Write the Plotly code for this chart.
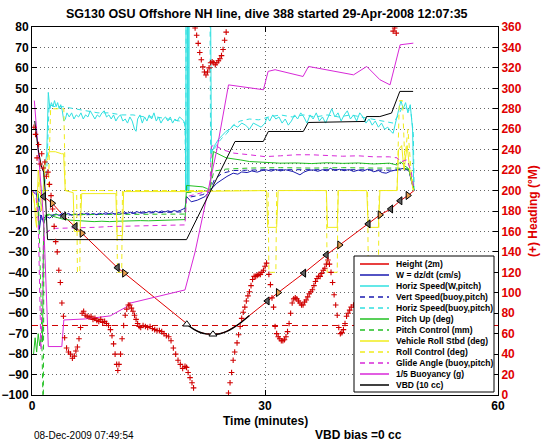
import plotly.graph_objects as go

# ---------------- data ----------------
height_t = [0.5, 0.85, 1.5, 2.6, 4.1, 5.57, 6.43, 8.5, 11.0, 11.9,
            14, 16, 18, 19.93, 20.8, 21.6, 22.4, 23.3, 24.2, 25.0,
            25.8, 26.6, 28.0, 30.3, 31.7, 33.5, 35.0, 37.9, 39.6, 41.5,
            43.3, 44.8, 46.2, 47.4, 48.4, 49.2]
height_v = [0, -0.5, -2.9, -6.2, -12.5, -17.6, -20.9, -28.5, -37.7, -40.4,
            -46.9, -53.2, -59.4, -65.4, -67.8, -69.3, -70.1, -70.3, -70.0, -69.0,
            -67.4, -65.4, -61.1, -54.0, -49.9, -44.7, -40.4, -31.5, -26.6, -21.3,
            -16.3, -11.9, -9.0, -5.0, -2.4, 0]
apogee_range = (13, 22)   # index slice of height arrays drawn in black

turn_left_t = [1.5, 4.1, 5.57, 11.0, 30.3, 35.0, 37.9, 43.3, 46.2, 47.4]
turn_left_h = [-2.9, -12.5, -17.6, -37.7, -54.0, -40.4, -31.5, -16.3, -9.0, -5.0]
turn_right_t = [2.6, 6.43, 11.9, 31.7, 39.6, 44.8, 48.4]
turn_right_h = [-6.2, -20.9, -40.4, -49.9, -26.6, -11.9, -2.4]
apogee_t = [19.93, 23.3]
apogee_h = [-65.4, -70.3]

target_t = [0, 60]
target_v = [-66, -66]
wdes_t = [0, 49.2]
wdes_up = [13.2, 13.2]
wdes_dn = [-13.2, -13.2]

w_t = [0, 0.5, 0.7, 0.95, 1.2, 1.5, 1.7, 2.0, 2.3, 2.7,
       3.1, 3.5, 3.9, 4.3, 4.7, 5.1, 5.5, 5.9, 6.3, 6.7,
       7.1, 7.5, 7.9, 8.3, 8.7, 9.1, 9.5, 9.9, 10.3, 10.7,
       11.1, 11.5, 11.9, 12.3, 12.7, 13.1, 13.5, 13.9, 14.3, 14.7,
       15.1, 15.5, 15.9, 16.3, 16.7, 17.1, 17.5, 17.9, 18.3, 18.7,
       19.1, 19.5, 19.7, 19.9, 20.5, 21.3, 22.3, 22.9, 23.8, 25.1,
       25.9, 26.5, 27.0, 27.7, 28.3, 29.0, 29.6, 30.2, 30.8, 31.4,
       32.0, 32.6, 33.2, 33.6, 34.0, 34.5, 35.0, 35.6, 36.2, 36.8,
       37.4, 38.0, 38.4, 39.0, 39.6, 40.2, 40.8, 41.4, 42.0, 42.6,
       43.2, 43.5, 44.0, 44.6, 45.1, 45.6, 46.2, 46.9, 47.5, 48.0,
       48.6, 48.8, 49.1, 49.25]
w_v = [0, 0, -5, -19, -12, -16, -14, -13, -13.5, -12.0,
       -11.4, -12.2, -11.0, -11.8, -11.2, -12.0, -11.4, -11.9, -11.1, -11.6,
       -11.0, -11.7, -11.2, -11.8, -11.1, -11.5, -10.8, -11.4, -10.9, -11.6,
       -10.7, -11.2, -10.5, -11.1, -10.6, -11.0, -10.3, -10.9, -10.4, -10.8,
       -10.2, -10.7, -10.1, -10.6, -10.0, -10.5, -9.9, -10.4, -9.8, -10.2,
       -9.7, -9.2, -8.6, -2.9, -5.5, -4.7, -2.9, 0, 3.6, 6.9,
       8.5, 8.0, 9.1, 8.8, 9.6, 9.0, 9.8, 10.1, 9.5, 10.3,
       9.6, 10.2, 9.7, 9.3, 8.6, 7.7, 9.0, 9.9, 10.1, 9.4,
       10.2, 9.6, 10.9, 9.8, 10.4, 9.7, 10.3, 9.3, 10.0, 9.5,
       10.4, 10.1, 9.2, 9.8, 8.8, 8.5, 9.5, 10.1, 10.5, 11.0,
       9.3, 5.2, 1.2, 0]

hs_t = [0, 0.6, 1.0, 1.3, 1.6, 1.9, 2.1, 2.3, 2.5, 2.7,
        2.9, 3.1, 3.3, 3.5, 3.7, 3.9, 4.1, 4.3, 4.5, 4.8,
        5.1, 5.4, 5.7, 6.0, 6.3, 6.6, 6.9, 7.2, 7.5, 7.8,
        8.1, 8.4, 8.7, 9.0, 9.3, 9.6, 9.9, 10.2, 10.5, 10.8,
        11.1, 11.4, 11.7, 12.0, 12.3, 12.6, 12.9, 13.2, 13.4, 13.6,
        13.9, 14.2, 14.5, 14.8, 15.1, 15.4, 15.7, 16.0, 16.3, 16.6,
        16.9, 17.2, 17.5, 17.8, 18.1, 18.4, 18.7, 19.0, 19.3, 19.55,
        19.75, 19.8, 19.9, 20.0, 20.1, 20.2, 20.3, 22.55, 23.1, 23.5,
        24.0, 24.5, 25.0, 25.5, 26.0, 26.5, 27.0, 27.5, 28.0, 28.5,
        29.0, 29.5, 30.0, 30.3, 30.6, 31.0, 31.4, 31.8, 32.2, 32.6,
        33.0, 33.4, 33.8, 34.2, 34.6, 35.0, 35.4, 35.8, 36.2, 36.6,
        37.0, 37.4, 37.8, 38.2, 38.6, 39.0, 39.4, 39.8, 40.2, 40.6,
        41.0, 41.4, 41.8, 42.2, 42.6, 43.0, 43.4, 43.8, 44.2, 44.6,
        45.0, 45.4, 45.8, 46.2, 46.5, 46.8, 47.1, 47.5, 47.8, 48.1,
        48.4, 48.7, 49.0, 49.15]
hs_v = [0, 0, -5, -8, 10, 18, 48, 40, 43, 41,
        44, 41, 43, 40, 42, 39, 34, 35, 38, 36,
        38, 35, 37, 36, 38, 35, 37, 36, 39, 37,
        35, 37, 36, 38, 39, 36, 37, 35, 37, 34,
        36, 37, 34, 35, 33, 36, 34, 30, 29, 35,
        37, 33, 36, 34, 37, 35, 38, 34, 36, 33,
        35, 36, 34, 36, 33, 35, 34, 36, 35, 34,
        31, 0, 400, 0, 400, 0, 400, 400, 18, 22,
        25, 27, 29, 30, 32, 31, 33, 32, 30, 33,
        32, 31, 33, 36, 34, 37, 35, 36, 33, 35,
        32, 34, 37, 35, 38, 36, 33, 37, 35, 38,
        34, 36, 33, 37, 40, 36, 38, 34, 37, 39,
        35, 37, 34, 38, 36, 33, 35, 32, 34, 31,
        33, 30, 31, 29, 28, 33, 38, 44, 40, 43,
        38, 42, 30, 2]

vsb_t = [0, 0.8, 1.2, 1.6, 2.2, 4, 7, 10, 13, 16,
         19, 19.7, 19.9, 22.0, 22.9, 23.5, 24.5, 26, 30, 34,
         38, 42, 46, 48.5, 49.2]
vsb_v = [0, -3, -15, -13, -12, -12, -11.8, -11.5, -11.2, -11,
         -10.6, -10.4, -3.5, -2, 0, 5.5, 8.5, 9.8, 10.2, 10.3,
         10.3, 10.2, 10.0, 10.2, 0]

hsb_t = [0, 1.5, 1.9, 2.2, 3.0, 4.0, 5.5, 7.0, 8.5, 10.0,
         11.5, 13.0, 14.5, 16.0, 17.5, 19.0, 19.7, 19.8, 20.0, 22.6,
         23.0, 23.6, 24.3, 25.1, 25.9, 26.8, 28.0, 29.2, 30.5, 32.0,
         33.5, 35.0, 36.5, 38.0, 39.5, 41.0, 42.5, 44.0, 45.5, 46.5,
         47.2, 47.7, 48.3, 48.8, 49.1, 49.2]
hsb_v = [0, 0, 10, 42, 41, 41, 40, 39, 38, 38,
         37, 37, 36, 36, 35, 34, 33, 0, 400, 400,
         14, 21.5, 25, 28, 32, 34, 35, 34.6, 36, 37,
         36, 37, 36, 37, 36, 37, 36, 35, 34, 33,
         37, 41, 40, 38, 28, 0]

pitch_t = [0.2, 0.4, 0.6, 0.8, 1.0, 1.2, 1.35, 1.5, 1.8, 2.2,
           2.6, 3.0, 3.5, 4.0, 5, 6, 7, 8, 9, 10,
           11, 12, 13, 14, 15, 16, 17, 18, 19, 19.7,
           19.9, 21, 22, 22.5, 22.9, 23.35, 24, 25, 26.8, 28,
           30, 31.9, 34, 36, 38, 40, 42, 44, 46, 47,
           47.5, 48.0, 48.4, 48.8, 49.2]
pitch_v = [-80, -72, -79, -70, -76, -71, -74, -16, -12, -11.5,
           -12.5, -13, -13.5, -14, -14.5, -14.8, -15, -15.2, -15, -15.2,
           -15, -14.8, -14.9, -14.7, -14.8, -14.6, -14.5, -14.4, -14.3, -14.2,
           2.5, 2.2, 1.8, 1.0, 0, 19.1, 18, 16, 15, 14.2,
           13.8, 13.4, 13.5, 13.2, 13.6, 13.3, 13.5, 13.0, 13.4, 12.5,
           14, 12, 11, 7, 0]

pitchc_t = [0, 0.8, 1.2, 1.32, 1.45, 1.55, 1.9, 2.5, 5, 8,
            11, 14, 17, 19.7, 19.9, 22.0, 22.9, 23.4, 25, 28,
            32, 36, 40, 44, 47, 48.5, 49.2]
pitchc_v = [0, 0, -60, -110, -110, -12, -12.2, -11.8, -11.8, -11.7,
            -11.6, -11.5, -11.5, -11.5, -1, -0.5, 0, 9.5, 10.5, 11,
            11.2, 11, 11.2, 11, 11, 10.5, 0]

roll_t = [0, 0.3, 0.45, 0.6, 0.8, 1.0, 1.2, 1.4, 1.7, 2.0,
          2.2, 3.0, 3.8, 4.07, 4.28, 5.3, 5.45, 6.2, 6.4, 10.8,
          10.95, 11.65, 11.8, 19.7, 30.2, 30.35, 31.5, 31.7, 37.9, 38.05,
          39.3, 39.45, 43.1, 43.3, 44.6, 44.8, 47.0, 47.2, 47.6, 47.9,
          48.3, 48.7, 49.1]
roll_v = [0, -5, -14, -18, 10, 4, -10, -5, 14, 15,
          19, 19, 18, 18, 0, -1, -20, -20, -1.5, -1.5,
          -22, -22, -0.5, -0.5, 0, -18, -18, 0, 0, -18,
          -18, 0, 0, -18, -18, 0, 0, 20, 22, 10,
          22, 8, 0]

rollc_t = [0, 0.5, 0.9, 1.3, 2.1, 2.4, 4.1, 4.3, 5.75, 5.85,
           6.15, 6.25, 10.9, 11.0, 11.55, 11.65, 30.4, 30.5, 31.4, 31.5,
           37.9, 38.0, 39.3, 39.4, 43.2, 43.3, 44.6, 44.7, 47.0, 47.3,
           47.7, 48.0, 48.4, 48.8, 49.1]
rollc_v = [0, -10, 5, 0, 0, 40, 40, 0, 0, -40,
           -40, 0, 0, -40, -40, 0, 0, -40, -40, 0,
           0, -40, -40, 0, 0, -40, -40, 0, 0, 44,
           44, 15, 30, 10, 0]

glide_t = [0, 0.5, 0.8, 1.0, 1.15, 1.3, 1.5, 2.0, 2.5, 3.0,
           4.0, 6, 8, 10, 12, 14, 16, 18, 19.7, 19.9,
           22.0, 22.9, 23.1, 23.5, 24.5, 26, 28, 30, 32, 34,
           36, 38, 40, 42, 44, 46, 47, 47.5, 48.2, 48.8,
           49.2]
glide_v = [0, -2, -14, -45, -78, -50, -22, -20, -19, -18.5,
           -18.4, -18.4, -18, -17.6, -17.4, -17.2, -17.0, -16.8, -16.8, -3,
           -1, 0, 21.5, 22.4, 20, 18.3, 17.5, 16.6, 17, 17.5,
           17.5, 17, 16.8, 17, 16.5, 16.5, 16, 14, 15, 10,
           0]

buoy_t = [0.3, 0.85, 1.5, 2.1, 3.84, 4.1, 6.85, 10.07, 12.2, 12.6,
          19.7, 21.0, 21.86, 22.9, 23.8, 25.3, 27.8, 29.8, 30.4, 31.3,
          34.9, 35.6, 41.4, 43.1, 44.8, 46.1, 47.4, 49.1]
buoy_v = [44, 18, -14.5, -76.3, -76.3, -63.3, -62.8, -61.3, -56.8, -55.1,
          -48.6, -30, -14.3, 3, 20, 51.7, 50.5, 49.3, 58.3, 59.1,
          55.8, 60.7, 56.6, 60.7, 54.2, 51.7, 71.3, 72.1]

vbd_t = [0.35, 0.8, 1.2, 1.5, 1.7, 1.85, 2.0, 19.9, 26.14, 29.78,
         30.43, 34.93, 35.57, 42.86, 43.07, 44.79, 46.07, 46.29, 47.36, 49.07]
vbd_v = [34, 20, 12, 9, 0, -10, -24, -24, 24.0, 24.0,
         28.9, 28.9, 33.3, 33.8, 36.2, 36.2, 37.9, 37.9, 48.5, 48.5]

head_t = [0.25, 0.45, 0.65, 0.85, 1.05, 1.25, 1.45, 1.65, 1.85, 2.05,
          2.25, 2.45, 2.65, 2.85, 3.05, 3.25, 3.45, 3.65, 3.85, 4.05,
          4.2, 4.45, 4.7, 4.95, 5.2, 5.45, 5.65, 5.85, 6.05, 6.25,
          6.45, 6.65, 6.85, 7.1, 7.35, 7.6, 7.85, 8.1, 8.35, 8.6,
          8.85, 9.1, 9.35, 9.6, 9.85, 10.1, 10.3, 10.5, 10.7, 10.9,
          11.05, 11.2, 11.4, 11.6, 11.8, 12.0, 12.2, 12.4, 12.6, 12.8,
          13.0, 13.2, 13.4, 13.6, 13.8, 14.0, 14.3, 14.6, 14.9, 15.2,
          15.5, 15.8, 16.1, 16.4, 16.7, 17.0, 17.3, 17.6, 17.9, 18.2,
          18.5, 18.8, 19.1, 19.4, 19.7, 19.9, 20.1, 20.35, 20.6, 20.8,
          21.0, 21.2, 21.4, 21.6, 21.8, 22.0, 22.2, 22.4, 22.6, 22.8,
          23.0, 23.2, 23.4, 23.6, 23.8, 24.0, 24.2, 24.4, 24.6, 24.8,
          25.0, 25.3, 25.5, 25.7, 25.9, 26.1, 26.4, 26.6, 26.8, 27.0,
          27.2, 27.4, 27.6, 27.8, 28.0, 28.2, 28.4, 28.6, 28.8, 29.0,
          29.2, 29.4, 29.6, 29.8, 30.0, 30.2, 30.5, 30.7, 30.9, 31.1,
          31.3, 31.5, 31.7, 31.9, 32.1, 32.3, 32.5, 32.7, 32.9, 33.1,
          33.3, 33.5, 33.7, 33.9, 34.1, 34.3, 34.5, 34.7, 34.9, 35.1,
          35.3, 35.5, 35.7, 35.9, 36.1, 36.3, 36.5, 36.7, 36.9, 37.1,
          37.3, 37.5, 37.7, 37.9, 38.1, 38.3, 38.5, 38.7, 38.9, 39.1,
          39.3, 39.5, 39.7, 39.9, 40.1, 40.3, 40.5, 40.7, 40.9, 41.1,
          41.4, 41.8, 42.2, 42.6, 43.0, 43.4, 43.8, 44.2, 44.6, 45.0,
          45.4, 45.8, 46.2, 46.5, 46.7, 46.9, 47.2, 47.5, 48.0, 48.5,
          49.0]
head_v = [262, 255, 232, 245, 226, 236, 222, 228, 214, 218,
          206, 195, 182, 165, 150, 140, 122, 110, 90, 77,
          56, 46, 42, 40, 36, 38, 43, 47, 55, 66,
          80, 82, 78, 77, 76, 77, 74, 75, 73, 72,
          74, 71, 72, 70, 68, 64, 58, 50, 40, 30,
          24, 30, 40, 55, 68, 78, 84, 88, 88, 85,
          82, 78, 74, 70, 67, 66, 68, 67, 66, 67,
          65, 64, 63, 63, 62, 60, 58, 57, 53, 46,
          40, 34, 30, 26, 28, 27, 22, 17, 12, 7,
          359, 352, 344, 335, 328, 321, 316, 313, 316, 320,
          325, 326, 325, 323, 325, 327, 329, 332, 338, 347,
          355, 2, 12, 22, 34, 42, 51, 59, 67, 75,
          81, 86, 92, 97, 101, 107, 113, 116, 116, 117,
          118, 118, 120, 122, 126, 129, 118, 108, 95, 86,
          67, 60, 57, 55, 53, 53, 54, 57, 62, 70,
          80, 90, 94, 95, 94, 92, 90, 88, 88, 91,
          93, 96, 99, 101, 103, 107, 111, 114, 116, 116,
          119, 122, 124, 128, 132, 128, 120, 110, 98, 88,
          78, 66, 60, 61, 64, 70, 77, 80, 83, 86,
          88, 90, 85, 75, 65, 55, 45, 35, 25, 18,
          14, 12, 10, 356, 359, 354, 12, 15, 20, 30,
          40]

x_ticks = [0, 30, 60]
legend_names = ["Height (2m)", "W = dz/dt (cm/s)", "Horiz Speed(W,pitch)",
                "Vert Speed(buoy,pitch)", "Horiz Speed(buoy,pitch)", "Pitch Up (deg)",
                "Pitch Control (mm)", "Vehicle Roll Stbd (deg)", "Roll Control (deg)",
                "Glide Angle (buoy,pitch)", "1/5 Buoyancy (g)", "VBD (10 cc)"]

# ---------------- styles ----------------
FONT = "Liberation Sans, Arial, Helvetica, sans-serif"
RED = "#e00000"
BLUE = "#1a1ab0"
CYAN = "#30e0e0"
GREEN = "#22c022"
YELLOW = "#f0ec1c"
MAGENTA = "#d828d8"
BLACK = "#000000"
DASH = "5px,4px"

series = [
    (height_t, height_v, RED, "solid"),
    (w_t, w_v, BLUE, "solid"),
    (hs_t, hs_v, CYAN, "solid"),
    (vsb_t, vsb_v, BLUE, DASH),
    (hsb_t, hsb_v, CYAN, DASH),
    (pitch_t, pitch_v, GREEN, "solid"),
    (pitchc_t, pitchc_v, GREEN, DASH),
    (roll_t, roll_v, YELLOW, "solid"),
    (rollc_t, rollc_v, YELLOW, DASH),
    (glide_t, glide_v, MAGENTA, DASH),
    (buoy_t, buoy_v, MAGENTA, "solid"),
    (vbd_t, vbd_v, BLACK, "solid"),
]

fig = go.Figure()

for yy in (wdes_up, wdes_dn):
    fig.add_trace(go.Scatter(x=wdes_t, y=yy, mode="lines",
                             line=dict(color="#445", width=1, dash="1px,3px"),
                             hoverinfo="skip"))
fig.add_trace(go.Scatter(x=target_t, y=target_v, mode="lines",
                         line=dict(color="#d00000", width=1, dash="6px,4px"),
                         hoverinfo="skip"))

for (tt, vv, col, dsh), nm in zip(series, legend_names):
    fig.add_trace(go.Scatter(x=tt, y=vv, mode="lines", name=nm,
                             line=dict(color=col, width=1, dash=dsh),
                             hoverinfo="skip"))

a0, a1 = apogee_range
fig.add_trace(go.Scatter(x=height_t[a0:a1 + 1], y=height_v[a0:a1 + 1], mode="lines",
                         line=dict(color=BLACK, width=1.5, shape="spline"),
                         hoverinfo="skip"))

fig.add_trace(go.Scatter(x=turn_left_t, y=turn_left_h, mode="markers",
                         marker=dict(symbol="triangle-left", size=7, color="#606060",
                                     line=dict(color="black", width=1)),
                         hoverinfo="skip"))
fig.add_trace(go.Scatter(x=turn_right_t, y=turn_right_h, mode="markers",
                         marker=dict(symbol="triangle-right", size=7, color="#e8a050",
                                     line=dict(color="black", width=1)),
                         hoverinfo="skip"))
fig.add_trace(go.Scatter(x=apogee_t, y=apogee_h, mode="markers",
                         marker=dict(symbol="triangle-up", size=7, color="white",
                                     line=dict(color="black", width=1)),
                         hoverinfo="skip"))

fig.add_trace(go.Scatter(x=head_t, y=head_v, mode="markers", yaxis="y2",
                         marker=dict(symbol="cross-thin", size=4,
                                     line=dict(color="#d00000", width=1.1)),
                         hoverinfo="skip"))

# ---------------- layout ----------------
L, R, T, B = 32, 48, 27, 47
W, H = 546, 442
PW, PH = W - L - R, H - T - B


def px(xp):
    return (xp - L) / PW


def py(yp):
    return (H - B - yp) / PH


axis_common = dict(showline=True, linecolor="black", linewidth=1, automargin=False,
                   ticks="inside", ticklen=5, tickcolor="black", zeroline=False,
                   tickfont=dict(family=FONT, size=12, color="black", weight="bold"))

fig.update_layout(
    width=W, height=H, margin=dict(l=L, r=R, t=T, b=B, autoexpand=False),
    paper_bgcolor="white", plot_bgcolor="white", showlegend=False,
    font=dict(family=FONT, size=12, color="black"),
    xaxis=dict(range=[0, 60], tickvals=x_ticks, mirror="ticks",
               showgrid=True, gridcolor="#666", griddash="1px,3px", gridwidth=1,
               **axis_common),
    yaxis=dict(range=[-100, 80], tick0=0, dtick=10, mirror=False,
               showgrid=True, gridcolor="#666", griddash="1px,3px", gridwidth=1,
               **axis_common),
    yaxis2=dict(range=[0, 360], tick0=0, dtick=20, overlaying="y", side="right",
                showgrid=False, showline=True, linecolor="black", linewidth=1,
                automargin=False,
                ticks="inside", ticklen=5, tickcolor="black", zeroline=False,
                tickfont=dict(family=FONT, size=12, color=RED, weight="bold")),
)

ann = [
    dict(text="SG130 OSU Offshore NH line, dive 388 started 29-Apr-2008 12:07:35",
         x=px(267), y=py(14), font=dict(size=12.5, weight="bold")),
    dict(text="Time (minutes)", x=px(265), y=py(421), font=dict(size=12, weight="bold")),
    dict(text="08-Dec-2009 07:49:54", x=px(32), y=py(435), xanchor="left",
         font=dict(size=10)),
    dict(text="VBD bias =0 cc", x=px(313), y=py(435), xanchor="left",
         font=dict(size=12, weight="bold")),
    dict(text="(+) Heading (°M)", x=px(533), y=0.5, textangle=-90,
         font=dict(size=12, weight="bold", color=RED)),
]
for a in ann:
    base = dict(xref="paper", yref="paper", showarrow=False, xanchor="center",
                yanchor="middle")
    base.update(a)
    base["font"] = dict(family=FONT, **a["font"])
    fig.add_annotation(**base)

# manual legend box
LX0, LX1, LY0, LY1 = 354, 494, 256, 392
fig.add_shape(type="rect", xref="paper", yref="paper", layer="above",
              x0=px(LX0), x1=px(LX1), y0=py(LY1), y1=py(LY0),
              fillcolor="white", line=dict(color="black", width=1))
for i, ((tt, vv, col, dsh), nm) in enumerate(zip(series, legend_names)):
    yy = 264 + i * 11.0
    fig.add_shape(type="line", xref="paper", yref="paper", layer="above",
                  x0=px(360), x1=px(389), y0=py(yy), y1=py(yy),
                  line=dict(color=col, width=1.5, dash=dsh))
    fig.add_annotation(text=nm, xref="paper", yref="paper", showarrow=False,
                       x=px(394), y=py(yy), xanchor="left", yanchor="middle",
                       font=dict(family=FONT, size=8.5, weight="bold", color="black"))

fig.write_html("out.html", config={"displayModeBar": False},
               post_script="document.body.style.margin='0';document.body.style.padding='0';")
